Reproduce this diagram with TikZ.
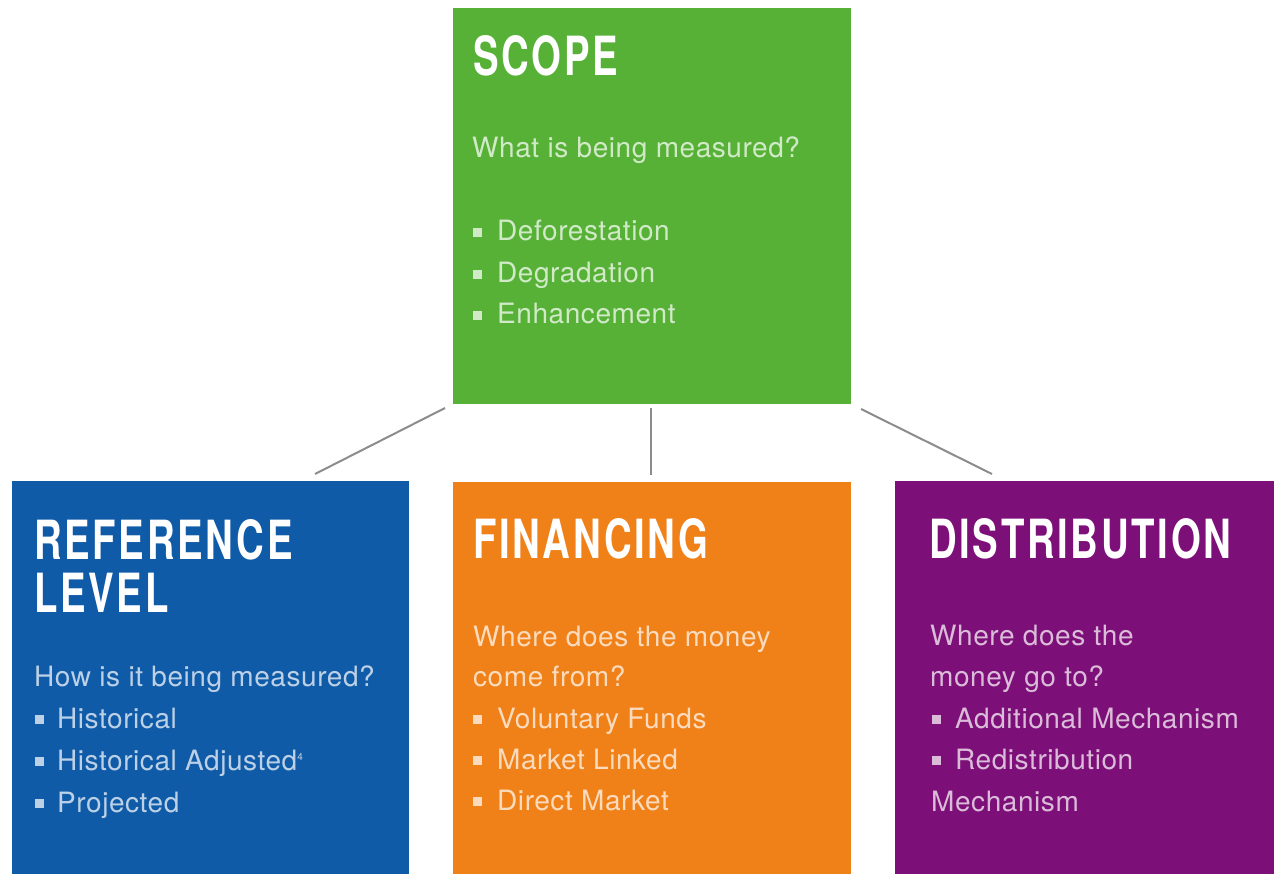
\documentclass[tikz,border=0pt]{standalone}
\usepackage{fontspec}
\setmainfont{TeX Gyre Heros}[LetterSpace=2]
\newfontfamily\titlefont{TeX Gyre Heros}[FakeStretch=0.71, LetterSpace=5]
\definecolor{cgreen}{HTML}{57B137}
\definecolor{cblue}{HTML}{105BA8}
\definecolor{corange}{HTML}{F08119}
\definecolor{cpurple}{HTML}{7D0F78}
\definecolor{cline}{HTML}{8C8C8C}
\tikzset{
  box/.style={inner sep=0pt, outer sep=0pt},
  ttl/.style={anchor=base west, inner sep=0pt, text=white, font=\titlefont\bfseries\fontsize{54}{54}\selectfont},
  bodytxt/.style={anchor=base west, inner sep=0pt, text=white, text opacity=0.72, font=\fontsize{28}{42}\selectfont},
  conn/.style={draw=cline, line width=2pt}
}
\newcommand{\bul}[1]{\rule[4pt]{9pt}{9pt}\hspace{#1pt}}
\begin{document}
\begin{tikzpicture}[x=1pt,y=-1pt]
\useasboundingbox (0,0) rectangle (1274,874);
% boxes
\fill[cgreen] (453,8) rectangle (851,404);
\fill[cblue] (12,481) rectangle (409,874);
\fill[corange] (453,482) rectangle (851,874);
\fill[cpurple] (895,481) rectangle (1274,874);
\node[box] (scope) at (652,206) {};
\node[box] (ref) at (210,677) {};
\node[box] (fin) at (652,677) {};
\node[box] (dist) at (1084,677) {};
% connectors
\coordinate (l1a) at (445,408); \coordinate (l1b) at (315,474);
\coordinate (l2a) at (651,408); \coordinate (l2b) at (651,475);
\coordinate (l3a) at (861,409); \coordinate (l3b) at (992,474);
\draw[conn] (l1a) -- (l1b);
\draw[conn] (l2a) -- (l2b);
\draw[conn] (l3a) -- (l3b);
% scope text
\node[ttl] (s1) at (473,76) {SCOPE};
\node[bodytxt] (s2) at (472,158) {What is being measured?};
\node[bodytxt] (s3) at (473,241) {\bul{15}Deforestation};
\node[bodytxt] (s4) at (473,283) {\bul{15}Degradation};
\node[bodytxt] (s5) at (473,324) {\bul{15}Enhancement};
% reference level
\node[ttl] (r1) at (34,559) {REFERENCE};
\node[ttl] (r2) at (34,612) {LEVEL};
\node[bodytxt] (r3) at (34,686) {How is it being measured?};
\node[bodytxt] (r4) at (35,728) {\bul{13}Historical};
\node[bodytxt] (r5) at (35,770) {\bul{13}Historical Adjusted\textsuperscript{\fontsize{10}{10}\selectfont 4}};
\node[bodytxt] (r6) at (35,812) {\bul{13}Projected};
% financing
\node[ttl] (f1) at (473,558) {FINANCING};
\node[bodytxt] (f2) at (473,646) {Where does the money};
\node[bodytxt] (f3) at (473,686) {come from?};
\node[bodytxt] (f4) at (473,728) {\bul{15}Voluntary Funds};
\node[bodytxt] (f5) at (473,769) {\bul{15}Market Linked};
\node[bodytxt] (f6) at (473,810) {\bul{15}Direct Market};
% distribution
\node[ttl] (d1) at (929,558) {DISTRIBUTION};
\node[bodytxt] (d2) at (930,645) {Where does the};
\node[bodytxt] (d3) at (930,686) {money go to?};
\node[bodytxt] (d4) at (932,728) {\bul{14}Additional Mechanism};
\node[bodytxt] (d5) at (932,769) {\bul{14}Redistribution};
\node[bodytxt] (d6) at (931,811) {Mechanism};
\end{tikzpicture}
\end{document}
